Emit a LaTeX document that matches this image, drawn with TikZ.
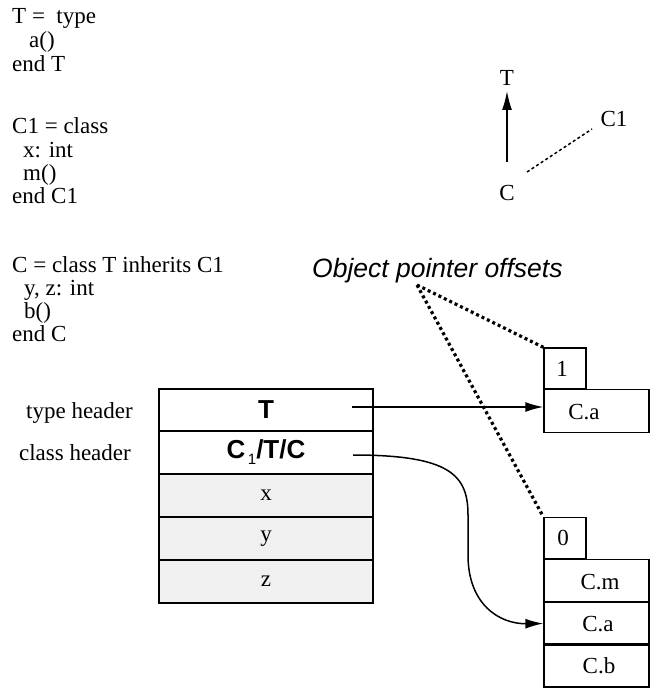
\documentclass[tikz,border=0pt]{standalone}
\usepackage{fontspec}
\setmainfont{Liberation Serif}
\setsansfont{Liberation Sans}
\usetikzlibrary{arrows.meta}
\definecolor{rowgray}{HTML}{F0F0F0}
\tikzset{
  code/.style={anchor=base west, inner sep=0pt, font=\fontsize{23}{25}\selectfont},
  lbl/.style={anchor=base east, inner sep=0pt, font=\fontsize{23}{25}\selectfont},
  hdr/.style={draw, line width=2pt, fill=white, minimum width=214pt, minimum height=43pt, inner sep=0pt, font=\fontsize{26}{28}\selectfont\sffamily\bfseries},
  fld/.style={draw, line width=1.6pt, fill=rowgray, minimum width=214pt, minimum height=43pt, inner sep=0pt, font=\fontsize{23}{25}\selectfont},
  cell/.style={draw, line width=1.4pt, minimum width=105pt, minimum height=43pt, inner sep=0pt},
  tab/.style={draw, line width=1.4pt, minimum width=42pt, minimum height=41pt, inner sep=0pt},
  txt/.style={inner sep=0pt, font=\fontsize{23}{25}\selectfont},
  ptr/.style={line width=1.5pt, -{Latex[length=18pt,width=10pt]}},
  offs/.style={line width=3.2pt, dash pattern=on 3pt off 3pt},
}
\begin{document}
\begin{tikzpicture}[x=1pt, y=-1pt]
\useasboundingbox (0,0) rectangle (650,690);
% code text
\node[code] (l1) at (12,24) {T =\ \ type};
\node[code] (l2) at (29,48) {a()};
\node[code] (l3) at (12,72) {end T};
\node[code] (l4) at (12,133) {C1 = class};
\node[code] (l5) at (23,157) {x: int};
\node[code] (l6) at (23,180) {m()};
\node[code] (l7) at (12,203) {end C1};
\node[code] (l8) at (12,272) {C = class T inherits C1};
\node[code] (l9) at (24,295) {y, z: int};
\node[code] (l10) at (24,318) {b()};
\node[code] (l11) at (12,341) {end C};
% hierarchy
\node[code, anchor=base] (tN) at (507,86) {T};
\node[code, anchor=base] (cN) at (507,200) {C};
\node[code, anchor=base] (c1N) at (614,126) {C1};
\coordinate (upA) at (507,162);
\coordinate (upB) at (507,91);
\draw[line width=1.6pt, -{Latex[length=19pt,width=10pt]}] (upA) -- (upB);
\coordinate (dA) at (527,172);
\coordinate (dB) at (592,129);
\draw[line width=1.5pt, dash pattern=on 3pt off 2.5pt] (dA) -- (dB);
% title
\node[anchor=base west, inner sep=0pt, font=\fontsize{26.5}{28}\selectfont\sffamily\itshape] (title) at (312,277) {Object pointer offsets};
% object layout
\node[fld] (rx) at (266,495.5) {x};
\node[fld] (ry) at (266,538.5) {y};
\node[fld] (rz) at (266,581.5) {z};
\node[hdr] (rT) at (266,410) {T};
\node[hdr] (rC) at (266,452.5) {C\raisebox{-6pt}{\mdseries\fontsize{15}{16}\selectfont\,1}/T/C};
\node[lbl] (ltype) at (133,418) {type header};
\node[lbl] (lclass) at (131,460) {class header};
% table 1
\node[tab] (tab1) at (565,368.5) {};
\node[txt] (n1) at (562,369) {1};
\node[cell] (ca1) at (596.5,411) {};
\node[txt] (tca1) at (584,412) {C.a};
% table 0
\node[tab] (tab0) at (565,538) {};
\node[txt] (n0) at (563,538) {0};
\node[cell] (cm0) at (596.5,581) {};
\node[txt] (tcm0) at (600,582) {C.m};
\node[cell] (ca0) at (596.5,623.5) {};
\node[txt] (tca0) at (598,624) {C.a};
\node[cell] (cb0) at (596.5,665.5) {};
\node[txt] (tcb0) at (599,666) {C.b};
% pointers
\coordinate (tS) at (352,407);
\draw[ptr] (tS) -- (tS -| ca1.west);
\coordinate (cS) at (353,455);
\draw[ptr] (cS) .. controls (450,455) and (468,475) .. (468,515) -- (468,555) .. controls (468,605) and (500,624) .. (ca0.west);
% offsets
\coordinate (op) at (417,285);
\draw[offs] (op) -- (tab1.north west);
\draw[offs] (op) -- (tab0.north west);
\end{tikzpicture}
\end{document}
